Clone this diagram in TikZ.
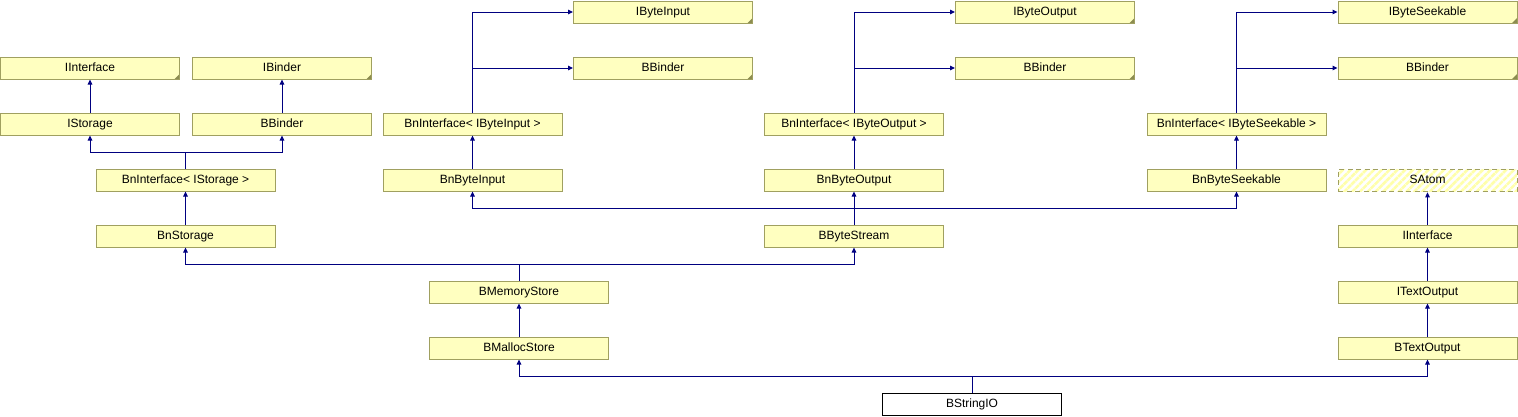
\documentclass[tikz,border=0pt]{standalone}
\usepackage{fontspec}
\setmainfont{Liberation Sans}
\usetikzlibrary{arrows.meta,patterns.meta}
\definecolor{boxfill}{RGB}{255,255,192}
\definecolor{hatchcol}{RGB}{255,255,170}
\definecolor{boxline}{RGB}{160,160,96}
\definecolor{cornercol}{RGB}{140,140,80}
\definecolor{arrcol}{RGB}{0,0,128}
\begin{document}
\begin{tikzpicture}[x=1pt,y=-1pt,
  box/.style={draw=boxline, fill=boxfill, line width=1pt, minimum width=179pt, minimum height=22pt, inner sep=0pt, text height=8.8pt, text depth=2.6pt, font=\fontsize{12}{14}\selectfont},
  ext/.style={box, path picture={\fill[cornercol] (path picture bounding box.south east) -- ++(-5,0) -- ++(5,-5) -- cycle;}},
  hatchbox/.style={box, fill=none, dash pattern=on 5pt off 3.5pt, preaction={fill=white}, pattern={Lines[angle=45,distance=5.5pt,line width=2.6pt]}, pattern color=hatchcol},
  cur/.style={box, draw=black, fill=white},
  arr/.style={draw=arrcol, line width=1pt, -{Triangle[length=5pt,width=4.5pt]}},
  ln/.style={draw=arrcol, line width=1pt}]
\useasboundingbox (0,0) rectangle (1518,416);
% left group
\node[ext] (IInterfaceA) at (90,68) {IInterface};
\node[ext] (IBinder) at (282,68) {IBinder};
\node[box] (IStorage) at (90,124) {IStorage};
\node[box] (BBinderA) at (282,124) {BBinder};
\node[box] (BnIStorage) at (185.5,180) {BnInterface< IStorage >};
\node[box] (BnStorage) at (185.5,236) {BnStorage};
% input group
\node[ext] (IByteInput) at (663,12) {IByteInput};
\node[ext] (BBinderB) at (663,68) {BBinder};
\node[box] (BnIByteInput) at (472.5,124) {BnInterface< IByteInput >};
\node[box] (BnByteInput) at (472.5,180) {BnByteInput};
% output group
\node[ext] (IByteOutput) at (1045,12) {IByteOutput};
\node[ext] (BBinderC) at (1045,68) {BBinder};
\node[box] (BnIByteOutput) at (854,124) {BnInterface< IByteOutput >};
\node[box] (BnByteOutput) at (854,180) {BnByteOutput};
\node[box] (BByteStream) at (854,236) {BByteStream};
% seekable group
\node[ext] (IByteSeekable) at (1427.5,12) {IByteSeekable};
\node[ext] (BBinderD) at (1427.5,68) {BBinder};
\node[box] (BnIByteSeekable) at (1236.5,124) {BnInterface< IByteSeekable >};
\node[box] (BnByteSeekable) at (1236.5,180) {BnByteSeekable};
% right column
\node[hatchbox] (SAtom) at (1427.5,180) {SAtom};
\node[box] (IInterfaceB) at (1427.5,236) {IInterface};
\node[box] (ITextOutput) at (1427.5,292) {ITextOutput};
\node[box] (BTextOutput) at (1427.5,348) {BTextOutput};
% bottom
\node[box] (BMemoryStore) at (519,292) {BMemoryStore};
\node[box] (BMallocStore) at (519,348) {BMallocStore};
\node[cur] (BStringIO) at (972,404) {BStringIO};
% junctions
\coordinate (j1) at (185.5,152);
\coordinate (j2) at (854,208);
\coordinate (j3) at (519,264);
\coordinate (j4) at (972,376);
% connectors
\draw[arr] (IStorage) -- (IInterfaceA);
\draw[arr] (BBinderA) -- (IBinder);
\draw[ln] (BnIStorage.north) -- (j1);
\draw[arr] (j1) -| (IStorage.south);
\draw[arr] (j1) -| (BBinderA.south);
\draw[arr] (BnStorage) -- (BnIStorage);
\draw[arr] (BnIByteInput.north) |- (IByteInput.west);
\draw[arr] (BnIByteInput.north |- BBinderB.west) -- (BBinderB.west);
\draw[arr] (BnByteInput) -- (BnIByteInput);
\draw[arr] (BnIByteOutput.north) |- (IByteOutput.west);
\draw[arr] (BnIByteOutput.north |- BBinderC.west) -- (BBinderC.west);
\draw[arr] (BnByteOutput) -- (BnIByteOutput);
\draw[arr] (BnIByteSeekable.north) |- (IByteSeekable.west);
\draw[arr] (BnIByteSeekable.north |- BBinderD.west) -- (BBinderD.west);
\draw[arr] (BnByteSeekable) -- (BnIByteSeekable);
\draw[arr] (BByteStream) -- (BnByteOutput);
\draw[arr] (j2) -| (BnByteInput.south);
\draw[arr] (j2) -| (BnByteSeekable.south);
\draw[ln] (BMemoryStore.north) -- (j3);
\draw[arr] (j3) -| (BnStorage.south);
\draw[arr] (j3) -| (BByteStream.south);
\draw[arr] (BMallocStore) -- (BMemoryStore);
\draw[arr] (IInterfaceB) -- (SAtom);
\draw[arr] (ITextOutput) -- (IInterfaceB);
\draw[arr] (BTextOutput) -- (ITextOutput);
\draw[ln] (BStringIO.north) -- (j4);
\draw[arr] (j4) -| (BMallocStore.south);
\draw[arr] (j4) -| (BTextOutput.south);
\end{tikzpicture}
\end{document}
